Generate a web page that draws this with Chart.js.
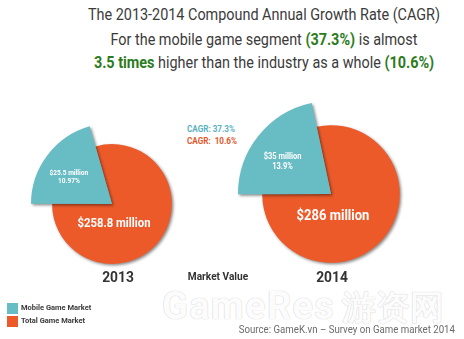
<!DOCTYPE html>
<html lang="en">
<head>
<meta charset="UTF-8">
<title>Market Value 2013 - 2014</title>
<script src="https://cdn.jsdelivr.net/npm/chart.js@4.4.1/dist/chart.umd.min.js"></script>
<style>
    body { margin: 0; width: 464px; height: 339px; background: #fff; overflow: hidden; position: relative; font-family: Roboto, sans-serif; }
    .abs { position: absolute; white-space: nowrap; }
    .title { left: 14px; width: 500px; text-align: center; font-size: 16px; line-height: 20px; color: #3b3b3b; transform: scaleX(0.9); transform-origin: 250px 0; }
    .title b { color: #2c7c1c; }
    .cagr { left: 187px; font-size: 9px; font-weight: bold; line-height: 10px; transform: scaleX(0.9); transform-origin: 0 0; }
    .year { font-size: 15px; font-weight: bold; color: #333; line-height: 18px; width: 80px; text-align: center; transform: scaleX(0.92); }
    .lg-box { left: 7px; width: 11px; height: 11px; }
    .lg-txt { left: 21px; font-size: 7.5px; font-weight: bold; color: #3a3a3a; line-height: 10px; }
    .chart { position: absolute; width: 200px; height: 200px; }
    .mark { left: 162px; top: 281px; font-size: 38px; font-weight: bold; color: #fcfcfc; letter-spacing: 1.3px;
            text-shadow: 0 0 1px #d2d2d2, 0 0 1px #d2d2d2; line-height: 50px; }
    .source { right: 9px; top: 323px; font-size: 10.5px; color: #6b6b6b; line-height: 13px; transform: scaleX(0.92); transform-origin: 100% 0; }
</style>
</head>
<body>
    <div class="abs title" style="top:5px">The 2013-2014 Compound Annual Growth Rate (CAGR)</div>
    <div class="abs title" style="top:30px">For the mobile game segment <b>(37.3%)</b> is almost</div>
    <div class="abs title" style="top:53px"><b>3.5 times</b> higher than the industry as a whole <b>(10.6%)</b></div>

    <div class="abs cagr" id="cagr1" style="top:124px"></div>
    <div class="abs cagr" id="cagr2" style="top:136px"></div>

    <div class="abs mark">GameRes<span style="font-size:34px; letter-spacing:0; margin-left:7px">游资网</span></div>

    <div class="chart" style="left:12px; top:104px"><canvas id="pie2013" width="200" height="200"></canvas></div>
    <div class="chart" style="left:231px; top:94px"><canvas id="pie2014" width="200" height="200"></canvas></div>

    <div class="abs year" id="y2013" style="left:78px; top:268px"></div>
    <div class="abs year" style="left:178px; top:268px; font-size:11px; width:80px">Market Value</div>
    <div class="abs year" id="y2014" style="left:292px; top:268px"></div>

    <div class="abs lg-box" style="top:303px; background:#68bcc4"></div>
    <div class="abs lg-box" style="top:316px; background:#ec5a2a"></div>
    <div class="abs lg-txt" id="lg0" style="top:303px"></div>
    <div class="abs lg-txt" id="lg1" style="top:316px"></div>

    <div class="abs source">Source: GameK.vn &ndash; Survey on Game market 2014</div>

<script>
    // ---- data ----
    let years = ['2013', '2014'];
    let seriesNames = ['Mobile Game Market', 'Total Game Market'];
    let mobileValue = ['$25.5 million', '$35 million'];
    let mobilePct = ['10.97%', '13.9%'];
    let totalValue = ['$258.8 million', '$286 million'];
    let cagrMobile = 37.3;
    let cagrTotal = 10.6;
    // share of each circle as it is drawn (not to scale with the money values)
    let mobileShare = [20.5, 21.7];
    let totalShare = [79.5, 78.3];

    let tealColor = '#68bcc4';
    let orangeColor = '#ec5a2a';

    document.getElementById('cagr1').innerHTML = '<span style="color:#5ab3bf">CAGR: ' + cagrMobile + '%</span>';
    document.getElementById('cagr2').innerHTML = '<span style="color:#e2582c">CAGR:&nbsp; ' + cagrTotal + '%</span>';
    document.getElementById('y2013').textContent = years[0];
    document.getElementById('y2014').textContent = years[1];
    document.getElementById('lg0').textContent = seriesNames[0];
    document.getElementById('lg1').textContent = seriesNames[1];

    // the total slice is drawn smaller than the mobile wedge, with a soft shadow
    let wedgePlugin = {
        id: 'wedge',
        beforeDatasetsDraw(chart) {
            let meta = chart.getDatasetMeta(0);
            let big = meta.data[1].outerRadius;
            meta.data[0].outerRadius = big * 0.74;
            let ctx = chart.ctx;
            ctx.save();
            ctx.shadowColor = 'rgba(0,0,0,0.45)';
            ctx.shadowBlur = 3;
            ctx.shadowOffsetX = 1.5;
            ctx.shadowOffsetY = 1.5;
        },
        afterDatasetsDraw(chart) {
            let ctx = chart.ctx;
            ctx.restore();
            let i = chart.options.plugins.wedge.index;
            let meta = chart.getDatasetMeta(0);
            let teal = meta.data[1];
            let orange = meta.data[0];
            let mid = (teal.startAngle + teal.endAngle) / 2 - 0.06;
            let R = teal.outerRadius;
            let tx = teal.x + Math.cos(mid) * R * 0.64;
            let ty = teal.y + Math.sin(mid) * R * 0.64;
            let fs = R * 0.088;
            ctx.save();
            ctx.fillStyle = '#fff';
            ctx.textAlign = 'center';
            ctx.textBaseline = 'alphabetic';
            ctx.font = 'bold ' + fs + 'px Roboto';
            ctx.save();
            ctx.translate(tx, ty);
            ctx.scale(0.92, 1);
            ctx.fillText(mobileValue[i], 0, -0.1 * fs);
            ctx.fillText(mobilePct[i], 0, 1.15 * fs);
            ctx.restore();
            let r = orange.outerRadius;
            let fb = r * 0.22;
            ctx.font = 'bold ' + fb + 'px Roboto';
            ctx.translate(orange.x + 2, orange.y + r * 0.38);
            ctx.scale(0.86, 1);
            ctx.fillText(totalValue[i], 0, 0);
            ctx.restore();
        }
    };

    function makePie(id, i, radius, rotation) {
        return new Chart(document.getElementById(id), {
            type: 'pie',
            data: {
                labels: [seriesNames[1], seriesNames[0]],
                datasets: [{
                    data: [totalShare[i], mobileShare[i]],
                    backgroundColor: [orangeColor, tealColor],
                    borderWidth: 0,
                    radius: radius
                }]
            },
            options: {
                responsive: false,
                animation: false,
                events: [],
                rotation: rotation,
                plugins: {
                    legend: { display: false },
                    tooltip: { enabled: false },
                    wedge: { index: i }
                }
            },
            plugins: [wedgePlugin]
        });
    }

    makePie('pie2013', 0, 81, -16);
    makePie('pie2014', 1, 93, -12);
</script>
</body>
</html>
